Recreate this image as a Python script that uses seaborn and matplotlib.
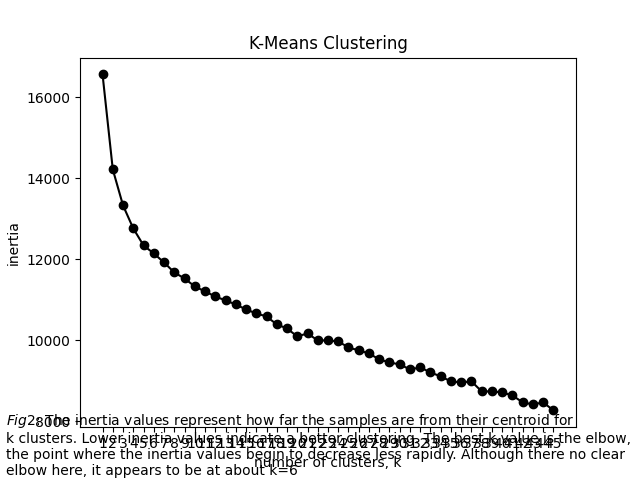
import pandas as pd
import matplotlib
matplotlib.use("Agg")
import matplotlib.pyplot as plt
import seaborn as sns

# number of clusters tried
ks = list(range(1, 46))

# inertia
inertias = [16570, 14222, 13333, 12765, 12346, 12148, 11926, 11679, 11531, 11333,
            11210, 11086, 10988, 10889, 10765, 10667, 10593, 10395, 10296, 10099,
            10173, 10000, 10000, 9975, 9827, 9753, 9679, 9531, 9457, 9407,
            9284, 9333, 9210, 9111, 8988, 8963, 8988, 8741, 8741, 8716,
            8642, 8469, 8420, 8469, 8272]

caption = ("$Fig 2$: The inertia values represent how far the samples are from their centroid for\n"
           "k clusters. Lower inertia values indicate a better clustering. The best k value is the elbow,\n"
           "the point where the inertia values begin to decrease less rapidly. Although there no clear\n"
           "elbow here, it appears to be at about k=6")

df = pd.DataFrame({'k': ks, 'inertia': inertias})

fig, ax = plt.subplots(figsize=(6.4, 4.8), dpi=100)
sns.lineplot(data=df, x='k', y='inertia', ax=ax, color='black',
             marker='o', markersize=6, markeredgecolor='black', markeredgewidth=1)

ax.set_title('K-Means Clustering')
ax.set_xlabel('number of clusters, k')
ax.set_ylabel('inertia')
ax.set_xticks(ks)

fig.text(0.01, 0.01, caption)

fig.savefig('out.png', dpi=100)
